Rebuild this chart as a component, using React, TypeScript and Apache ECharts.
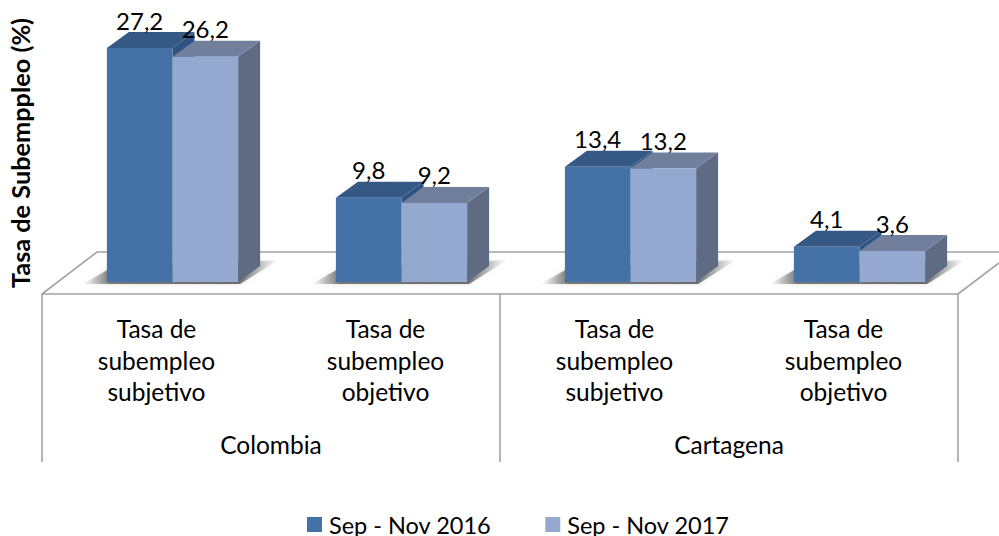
import React, { useEffect, useRef } from "react";
import * as echarts from "echarts";

const categoryLabels = [
  "Tasa de\nsubempleo\nsubjetivo",
  "Tasa de\nsubempleo\nobjetivo",
  "Tasa de\nsubempleo\nsubjetivo",
  "Tasa de\nsubempleo\nobjetivo",
];
const groupLabels = ["Colombia", "Cartagena"];
const seriesNames = ["Sep - Nov 2016", "Sep - Nov 2017"];
const values2016 = [27.2, 9.8, 13.4, 4.1];
const values2017 = [26.2, 9.2, 13.2, 3.6];
const axisTitle = "Tasa de Subemppleo (%)";

const FONT = "Lato, sans-serif";
const FONT_SIZE = 24.5;
const DX = 22;
const DY = -16;
const BAR_RATIO = 0.2865;
const LINE = "#a3a3a3";

function barRenderer(slot: number, front: string, top: string, side: string) {
  return (_params: any, api: any) => {
    const idx = api.value(0);
    const val = api.value(1);
    const [cx, yTop] = api.coord([idx, val]);
    const [, y0] = api.coord([idx, 0]);
    const w = api.size([1, 0])[0] * BAR_RATIO;
    const x0 = cx + (slot === 0 ? -w : 0);
    const x1 = x0 + w;
    const label = String(val).replace(".", ",");
    return {
      type: "group",
      children: [
        {
          type: "polygon",
          shape: { points: [[x1, yTop], [x1 + DX, yTop + DY], [x1 + DX, y0 + DY], [x1, y0]] },
          style: { fill: side },
        },
        {
          type: "polygon",
          shape: { points: [[x0, yTop], [x0 + DX, yTop + DY], [x1 + DX, yTop + DY], [x1, yTop]] },
          style: { fill: top },
        },
        {
          type: "rect",
          shape: { x: x0, y: yTop, width: w, height: y0 - yTop },
          style: { fill: front },
        },
        {
          type: "text",
          z2: 100,
          style: {
            x: (x0 + x1) / 2,
            y: yTop - 28,
            text: label,
            fill: "#000",
            font: `24px ${FONT}`,
            align: "center",
            verticalAlign: "middle",
          },
        },
      ],
    };
  };
}

function shadowRenderer(_params: any, api: any) {
  const idx = api.value(0);
  const [cx, y0] = api.coord([idx, 0]);
  const w = api.size([1, 0])[0] * BAR_RATIO;
  return {
    type: "polygon",
    shape: {
      points: [
        [cx - w - 24, y0 + 2],
        [cx - w + 4, y0 - 14],
        [cx + w + 40, y0 - 22],
        [cx + w + 2, y0 + 2],
      ],
    },
    style: {
      fill: new echarts.graphic.LinearGradient(0, 0, 1, 0, [
        { offset: 0, color: "rgba(130,130,130,0)" },
        { offset: 0.14, color: "rgba(100,100,100,0.85)" },
        { offset: 0.8, color: "rgba(85,85,85,0.85)" },
        { offset: 1, color: "rgba(130,130,130,0)" },
      ]),
      shadowBlur: 4,
      shadowColor: "rgba(170,170,170,0.5)",
    },
  };
}

export default function App() {
  const ref = useRef<HTMLDivElement>(null);
  useEffect(() => {
    document.body.style.margin = "0";
    const chart = echarts.init(ref.current!, undefined, { renderer: "svg" });
    const lineStyle = { stroke: LINE, lineWidth: 1.6 };
    chart.setOption({
      animation: false,
      backgroundColor: "#fff",
      textStyle: { fontFamily: FONT },
      grid: [
        { left: 58, width: 916, top: 24, height: 258, outerBoundsMode: "none" },
        { left: 42, width: 916, top: 100, height: 194, outerBoundsMode: "none" },
      ],
      xAxis: [
        {
          gridIndex: 0,
          type: "category",
          data: categoryLabels,
          axisLine: { show: false },
          axisTick: { show: false },
          axisLabel: { show: false },
        },
        {
          gridIndex: 1,
          type: "category",
          data: categoryLabels,
          position: "bottom",
          axisLine: { show: true, lineStyle: { color: LINE, width: 1.6 } },
          axisTick: { show: false },
          axisLabel: {
            interval: 0,
            margin: 19,
            color: "#000",
            fontFamily: FONT,
            fontSize: FONT_SIZE,
            lineHeight: 31.5,
            verticalAlign: "top",
          },
        },
        {
          gridIndex: 1,
          type: "category",
          data: groupLabels,
          position: "bottom",
          axisLine: { show: false },
          axisTick: { show: true, length: 168, lineStyle: { color: LINE, width: 1.6 } },
          axisLabel: {
            interval: 0,
            margin: 135,
            color: "#000",
            fontFamily: FONT,
            fontSize: FONT_SIZE,
            lineHeight: 31.5,
            verticalAlign: "top",
          },
        },
      ],
      yAxis: [
        {
          gridIndex: 0,
          type: "value",
          min: 0,
          max: 30,
          interval: 5,
          name: axisTitle,
          nameLocation: "middle",
          nameRotate: 90,
          nameGap: 26,
          nameTextStyle: { fontFamily: FONT, fontSize: 25.3, fontWeight: "bold", color: "#000" },
          axisLine: { show: false },
          axisTick: { show: false },
          axisLabel: { show: false },
          splitLine: { show: false },
        },
        { gridIndex: 1, type: "value", show: false, splitLine: { show: false } },
      ],
      legend: {
        data: seriesNames,
        left: 307,
        top: 511.5,
        padding: 0,
        icon: "rect",
        itemWidth: 15,
        itemHeight: 15,
        itemGap: 54,
        selectedMode: false,
        textStyle: {
          fontFamily: FONT,
          fontSize: 23.5,
          lineHeight: 20,
          color: "#000",
          padding: [0, 0, 6, 2],
        },
      },
      graphic: [
        {
          type: "polyline",
          z: 0,
          silent: true,
          shape: { points: [[42, 294], [97, 252], [999, 252]] },
          style: { ...lineStyle, fill: "none" },
        },
        {
          type: "line",
          z: 0,
          silent: true,
          shape: { x1: 958, y1: 294, x2: 999, y2: 263 },
          style: lineStyle,
        },
      ],
      series: [
        {
          name: "floor-shadow",
          type: "custom",
          silent: true,
          z: 1,
          xAxisIndex: 0,
          yAxisIndex: 0,
          data: values2016.map((_, i) => [i, 0]),
          renderItem: shadowRenderer,
        },
        {
          name: seriesNames[0],
          type: "custom",
          z: 2,
          xAxisIndex: 0,
          yAxisIndex: 0,
          itemStyle: { color: "#4471a6" },
          data: values2016.map((v, i) => [i, v]),
          renderItem: barRenderer(0, "#4471a6", "#365884", "#2f5380"),
        },
        {
          name: seriesNames[1],
          type: "custom",
          z: 3,
          xAxisIndex: 0,
          yAxisIndex: 0,
          itemStyle: { color: "#95a9d0" },
          data: values2017.map((v, i) => [i, v]),
          renderItem: barRenderer(1, "#95a9d0", "#717f9d", "#5e6b83"),
        },
      ],
    });
    return () => chart.dispose();
  }, []);
  return <div ref={ref} style={{ width: 999, height: 536 }} />;
}
